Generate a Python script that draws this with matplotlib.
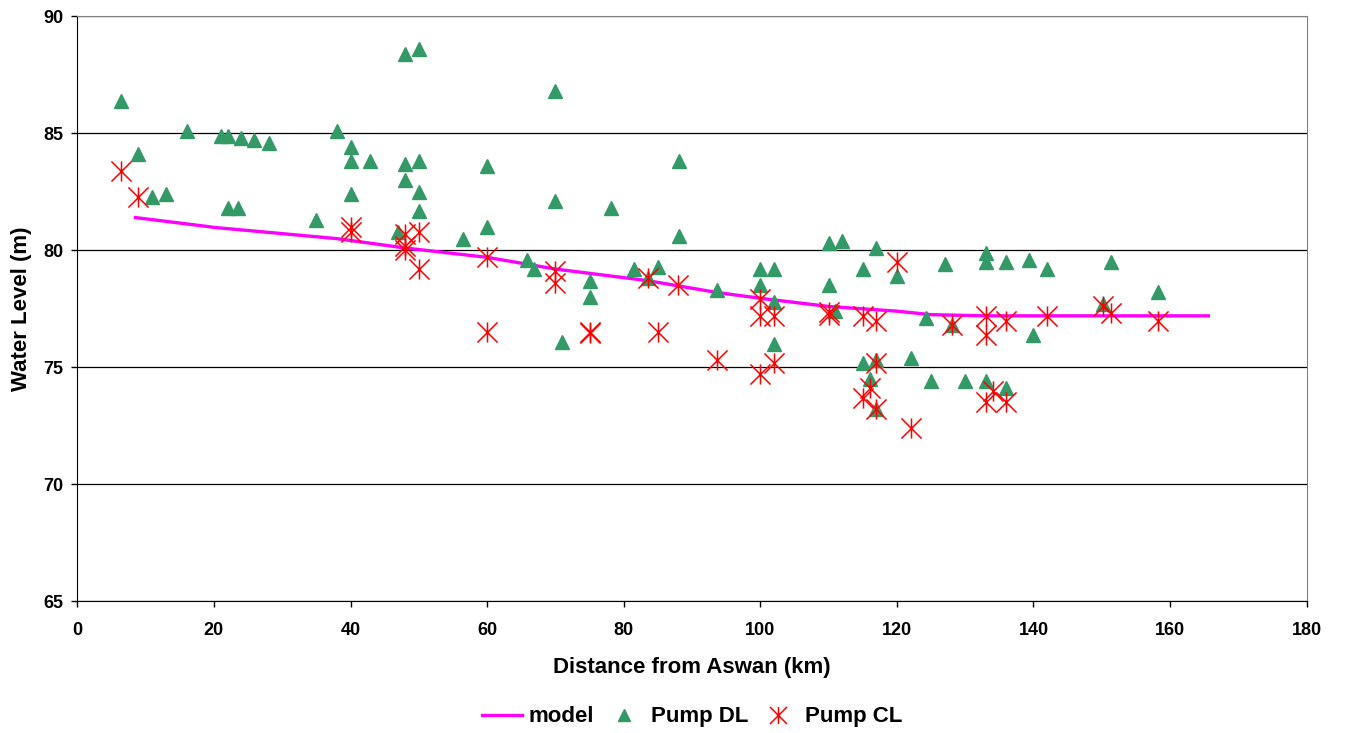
import numpy as np
import matplotlib
matplotlib.use("Agg")
import matplotlib.pyplot as plt
from matplotlib.path import Path

plt.rcParams['font.family'] = ['Liberation Sans', 'DejaVu Sans']
plt.rcParams['font.weight'] = 'bold'

# model curve
model_x = [8.5, 19, 20, 38, 48, 60, 70, 83.6, 93.6, 100, 110, 120, 125, 133, 150, 165.6]
model_y = [81.4, 81.02, 80.98, 80.5, 80.1, 79.7, 79.2, 78.7, 78.2, 77.95, 77.6, 77.4, 77.25, 77.2, 77.2, 77.2]

# Pump DL (triangles)
dl_x = [6.4, 8.9, 10.9, 13.0, 16.0, 21.0, 22.0, 23.9, 25.9, 28.0, 22.0, 23.5, 35.0, 38.0,
        40.0, 40.0, 40.0, 42.9, 47.0, 48.0, 50.0, 48.0, 50.0, 48.0, 50.0, 50.0, 56.5,
        60.0, 60.0, 65.9, 66.8, 70.0, 70.0, 71.0, 75.0, 75.0, 78.1, 81.5, 83.6, 85.0,
        88.1, 88.1, 93.6, 100.0, 100.0, 102.0, 102.0, 102.0, 110.0, 110.0, 111.0, 112.0,
        115.0, 115.0, 116.0, 117.0, 117.0, 117.0, 120.0, 122.0, 124.2, 125.0, 127.0,
        128.0, 130.0, 133.0, 133.0, 133.0, 136.0, 136.0, 139.3, 140.0, 142.0, 150.2,
        151.3, 158.3]
dl_y = [86.4, 84.1, 82.3, 82.4, 85.1, 84.9, 84.9, 84.8, 84.7, 84.6, 81.8, 81.8, 81.3, 85.1,
        84.4, 83.8, 82.4, 83.8, 80.8, 88.4, 88.6, 83.7, 83.8, 83.0, 82.5, 81.7, 80.5,
        83.6, 81.0, 79.6, 79.2, 86.8, 82.1, 76.1, 78.7, 78.0, 81.8, 79.2, 78.8, 79.3,
        83.8, 80.6, 78.3, 79.2, 78.5, 79.2, 77.8, 76.0, 80.3, 78.5, 77.4, 80.4,
        79.2, 75.2, 74.5, 80.1, 75.3, 73.2, 78.9, 75.4, 77.1, 74.4, 79.4,
        76.8, 74.4, 79.9, 79.5, 74.4, 79.5, 74.1, 79.6, 76.4, 79.2, 77.7,
        79.5, 78.2]

# Pump CL (asterisks)
cl_x = [6.4, 8.9, 40.0, 40.0, 48.0, 50.0, 48.0, 48.0, 50.0, 60.0, 60.0, 70.0, 70.0,
        75.0, 75.0, 83.6, 85.0, 88.0, 93.6, 100.0, 100.0, 100.0, 102.0, 102.0, 110.0,
        110.0, 115.0, 117.0, 120.0, 115.0, 116.0, 117.0, 117.0, 122.0, 128.0, 133.0,
        133.0, 133.0, 134.0, 136.0, 136.0, 142.0, 150.2, 151.3, 158.3]
cl_y = [83.4, 82.3, 81.0, 80.8, 80.7, 80.8, 80.2, 80.0, 79.2, 79.7, 76.5, 79.1, 78.6,
        76.5, 76.45, 78.8, 76.5, 78.5, 75.3, 77.9, 77.2, 74.7, 77.2, 75.2, 77.35,
        77.25, 77.2, 77.0, 79.5, 73.7, 74.1, 75.2, 73.2, 72.4, 76.8, 77.2,
        76.4, 73.5, 74.0, 77.0, 73.5, 77.2, 77.6, 77.3, 77.0]

# asterisk = X plus vertical bar, like the spreadsheet marker
star = Path([(-1, -1), (1, 1), (-1, 1), (1, -1), (0, -1), (0, 1)],
            [Path.MOVETO, Path.LINETO, Path.MOVETO, Path.LINETO, Path.MOVETO, Path.LINETO])

fig = plt.figure(figsize=(13.45, 7.33), dpi=100)
ax = fig.add_axes([0.0575, 0.1797, 0.914, 0.798])

ax.plot(model_x, model_y, color='#FF00FF', lw=2.4, label='model', zorder=3)
ax.plot(dl_x, dl_y, ls='none', marker='^', ms=9.5, color='#339966', label='Pump DL', zorder=4)
ax.plot(cl_x, cl_y, ls='none', marker=star, ms=14.5, mew=1.1, mfc='none', color='#FF0000',
        label='Pump CL', zorder=5)

ax.set_xlim(0, 180)
ax.set_ylim(65, 90)
ax.set_xticks(np.arange(0, 181, 20))
ax.set_yticks(np.arange(65, 91, 5))
ax.yaxis.grid(True, color='black', lw=0.9)
ax.set_axisbelow(True)
ax.tick_params(direction='out', length=4, width=1, labelsize=13)
ax.tick_params(axis='x', pad=11)
ax.tick_params(axis='y', pad=6)
for lab in ax.get_xticklabels() + ax.get_yticklabels():
    lab.set_fontweight('bold')
for s in ['top', 'right']:
    ax.spines[s].set_color('#808080')
for s in ['left', 'bottom']:
    ax.spines[s].set_color('black')

ax.set_xlabel('Distance from Aswan (km)', fontsize=16, fontweight='bold', labelpad=13)
ax.set_ylabel('Water Level (m)', fontsize=16, fontweight='bold', labelpad=8)

fig.legend(loc='center', bbox_to_anchor=(0.5145, 0.022), ncol=3, frameon=False,
           handlelength=1.8, columnspacing=0.45, handletextpad=0.3, markerscale=0.85,
           prop={'weight': 'bold', 'size': 16})

fig.savefig('out.png', dpi=100)
